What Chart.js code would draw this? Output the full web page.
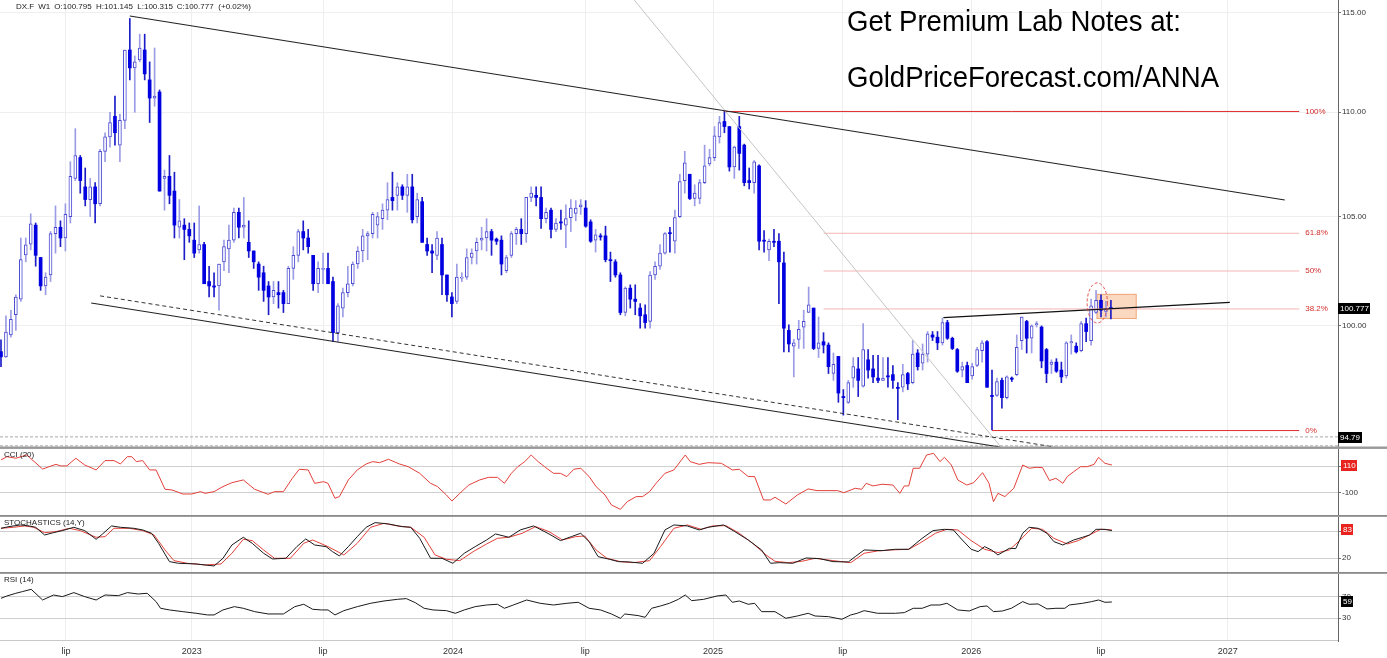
<!DOCTYPE html>
<html>
<head>
<meta charset="utf-8">
<script src="https://cdn.jsdelivr.net/npm/chart.js@4.4.0/dist/chart.umd.min.js"></script>
<style>
  html, body { margin: 0; padding: 0; background: #fff; }
  #wrap { position: relative; width: 1387px; height: 658px; overflow: hidden; background: #fff; }
  #wrap canvas { position: absolute; left: 0; }
</style>
</head>
<body>
<div id="wrap">
  <canvas id="priceChart" width="1387" height="448" style="top:0px"></canvas>
  <canvas id="cciChart" width="1387" height="68" style="top:448px"></canvas>
  <canvas id="stochChart" width="1387" height="57" style="top:516px"></canvas>
  <canvas id="rsiChart" width="1387" height="85" style="top:573px"></canvas>
</div>
<script>
// weekly candles, index = week number
const opens = [
  98.86,98.63,99.60,100.50,101.20,103.22,103.72,104.60,103.10,101.80,
  102.30,104.20,104.50,104.00,105.00,106.80,107.80,106.40,105.80,106.40,
  105.60,108.10,108.80,109.80,108.40,109.60,113.10,112.20,112.60,113.10,
  111.60,110.70,111.00,106.80,106.90,106.20,104.50,104.60,104.40,103.90,
  103.45,103.70,102.00,101.80,101.80,102.90,103.50,103.90,105.20,104.50,
  103.80,103.40,102.80,102.40,101.80,101.30,101.50,101.50,101.00,102.60,
  103.20,104.30,104.00,103.20,101.90,102.55,102.60,102.00,99.70,100.80,
  101.50,101.90,102.80,103.40,104.10,104.20,104.60,104.90,105.30,105.90,
  106.00,106.40,106.00,106.40,105.00,105.70,103.70,103.40,103.20,103.70,
  102.30,101.30,101.10,102.15,102.20,103.10,103.40,103.90,104.00,104.30,
  103.95,103.90,102.50,103.20,104.20,104.40,104.20,105.90,106.00,105.90,
  104.90,105.30,104.40,104.75,104.60,104.95,105.15,105.45,105.40,104.75,
  103.90,104.10,104.10,103.00,102.90,102.30,100.60,101.70,101.20,100.80,
  100.50,100.20,102.30,102.70,103.30,104.25,103.85,105.00,106.70,107.00,
  105.85,105.85,106.60,107.50,107.80,108.80,109.55,109.30,107.35,109.30,
  108.40,106.70,106.60,107.40,103.90,103.45,103.85,103.85,102.85,99.80,
  99.10,99.40,99.95,100.60,100.80,99.00,99.30,99.15,97.90,98.65,
  96.90,96.65,97.70,98.10,97.35,98.50,98.10,97.70,97.60,97.80,
  97.85,97.30,97.30,97.90,97.50,98.80,98.35,98.75,99.60,99.50,
  99.25,100.15,99.45,98.95,98.05,98.25,97.80,98.25,98.90,99.30,
  96.95,96.95,97.60,96.85,97.70,97.85,99.35,100.20,99.45,100.05,
  99.95,98.95,98.30,98.40,98.05,97.80,99.25,99.10,98.90,100.10,
  99.35,100.60,101.15,100.65,100.795
];
const highs = [
  99.38,100.45,100.70,101.40,104.00,104.00,105.13,104.70,103.10,102.40,
  104.30,105.50,104.80,105.60,107.60,109.20,107.90,107.30,106.80,106.60,
  108.20,109.00,110.00,110.80,109.90,113.10,114.70,112.80,113.90,113.90,
  112.50,113.20,111.10,107.20,107.90,107.10,105.80,104.90,104.70,104.70,
  105.50,103.80,102.70,102.40,102.80,103.90,104.60,105.40,105.40,105.90,
  104.80,103.40,102.90,102.70,102.00,102.00,102.00,101.60,102.70,103.60,
  104.40,104.80,104.40,103.20,102.90,103.30,103.30,102.20,101.00,101.70,
  102.70,102.90,103.60,104.40,104.30,105.20,105.20,105.60,106.60,107.10,
  106.60,106.50,107.00,107.00,106.10,105.90,104.00,103.70,104.30,104.00,
  102.30,101.50,102.80,102.40,103.50,103.50,104.00,104.50,104.90,104.40,
  104.00,104.10,103.20,104.30,104.50,104.90,105.90,106.40,106.40,106.40,
  105.40,105.40,104.90,105.30,105.55,105.80,105.75,105.80,105.75,104.85,
  104.40,104.20,104.55,103.35,103.00,102.40,101.76,101.85,101.85,101.00,
  100.95,102.45,102.90,103.70,104.25,104.50,105.30,107.00,108.10,107.00,
  106.50,106.75,108.40,108.20,109.30,109.80,110.05,109.30,108.35,109.80,
  108.45,107.30,107.65,107.45,104.35,103.95,104.40,104.20,103.35,100.05,
  99.40,100.25,100.70,101.75,100.80,100.40,99.70,99.25,98.80,98.65,
  97.20,97.60,98.60,98.60,100.10,98.95,98.70,98.70,98.60,98.60,
  98.25,97.50,98.30,97.95,99.35,98.95,99.20,99.75,99.75,99.75,
  100.35,100.25,99.50,99.00,98.40,98.40,98.35,99.05,99.35,99.35,
  98.05,97.70,97.70,97.80,97.75,99.60,100.40,100.25,100.05,100.20,
  100.00,99.00,98.50,98.55,98.40,99.30,99.60,99.25,100.20,100.35,
  101.20,101.60,101.40,101.10,101.145
];
const lows = [
  98.20,98.60,99.50,99.80,101.10,102.90,103.45,102.70,101.60,101.40,
  102.00,103.30,103.60,103.40,104.70,106.70,106.10,105.50,105.00,104.70,
  105.50,107.60,108.30,108.40,107.60,109.20,111.60,110.00,112.50,111.60,
  109.50,110.30,106.20,105.30,105.60,104.00,104.00,103.00,103.80,103.10,
  103.30,101.90,101.30,101.30,100.70,102.50,102.40,103.80,104.00,104.00,
  103.10,102.60,101.60,101.10,100.50,101.00,100.80,100.60,101.00,102.10,
  102.90,103.45,103.30,101.60,101.50,101.90,101.90,99.30,99.30,100.40,
  101.30,101.80,102.60,102.90,103.00,104.00,104.00,104.40,104.85,105.30,
  105.30,105.80,105.20,104.70,104.70,103.80,103.20,102.40,103.00,101.40,
  101.10,100.40,101.00,102.00,102.10,102.80,102.80,103.45,103.40,103.20,
  103.70,102.30,102.40,103.10,103.70,103.70,103.80,105.70,105.50,104.45,
  104.70,104.00,104.30,104.40,103.55,104.30,104.80,105.10,104.50,103.80,
  103.35,103.90,102.90,102.00,102.20,100.50,100.45,100.80,100.50,99.90,
  99.90,99.90,102.10,102.55,103.25,103.35,103.30,104.95,106.10,105.80,
  105.50,105.60,106.55,107.40,107.65,108.50,109.00,107.15,106.80,107.20,
  106.45,106.30,106.10,103.45,103.35,102.95,103.60,101.00,98.85,98.85,
  97.75,99.00,99.00,100.60,98.95,98.60,98.80,97.90,97.60,96.65,
  96.10,96.60,97.30,96.90,97.30,97.70,97.50,97.50,97.60,97.30,
  97.25,95.90,97.10,97.20,97.45,98.05,98.05,98.40,99.35,98.95,
  99.15,99.40,98.95,97.95,97.75,97.50,97.65,98.20,98.40,97.30,
  95.47,96.90,96.40,96.80,97.55,97.80,98.95,98.80,98.80,99.95,
  98.15,97.50,97.90,97.95,97.50,97.70,98.75,98.80,98.85,99.30,
  99.15,100.55,100.40,100.40,100.315
];
const closes = [
  98.63,99.73,100.30,101.30,103.00,103.68,104.66,103.20,101.80,102.20,
  104.20,104.50,104.00,105.10,106.90,107.90,106.70,105.80,106.40,105.60,
  108.10,108.80,109.50,109.00,109.60,113.10,112.20,112.50,113.20,111.90,
  110.70,110.80,106.20,106.90,106.00,104.60,104.80,104.40,104.10,103.30,
  103.70,101.90,101.80,101.75,102.80,103.60,103.90,105.20,104.50,104.60,
  103.40,102.90,102.20,101.60,101.30,101.60,101.40,101.00,102.60,103.20,
  104.30,104.00,103.60,101.90,102.60,102.60,101.90,99.70,100.90,101.50,
  101.90,102.80,103.40,104.10,104.20,105.10,105.00,105.30,105.80,105.75,
  106.40,106.00,106.40,104.85,105.80,103.80,103.40,103.30,104.00,102.30,
  101.40,101.00,102.20,102.20,103.10,103.30,103.80,104.00,104.30,103.90,
  103.85,102.80,103.10,104.20,104.40,104.20,105.90,106.10,105.90,104.90,
  105.20,104.40,104.70,104.70,104.90,105.40,105.40,105.55,104.55,103.85,
  104.15,104.05,103.00,102.95,102.30,100.60,101.70,101.20,101.10,100.45,
  100.15,102.30,102.70,103.30,104.20,104.20,104.95,106.65,107.55,105.85,
  106.10,106.60,107.40,107.80,108.85,109.50,109.30,107.35,108.30,108.00,
  106.60,106.60,107.60,103.85,103.85,103.85,103.80,102.90,99.90,99.20,
  99.25,99.85,100.20,100.95,99.00,99.25,99.15,98.20,98.30,97.05,
  96.85,97.50,98.20,97.60,98.95,98.05,97.75,97.60,97.70,97.75,
  97.60,97.25,97.85,97.45,98.75,98.20,98.75,99.65,99.50,99.25,
  100.15,99.45,99.00,98.00,98.20,97.50,98.20,98.95,99.25,97.30,
  96.90,97.55,96.85,97.75,97.65,99.05,100.40,99.45,100.00,100.10,
  98.45,97.90,98.40,98.00,97.75,99.25,99.30,98.85,100.10,99.75,
  100.90,101.15,100.70,100.75,100.777
];

// time axis (week numbers of the labels)
const tickWeeks = [13.1, 38.5, 65.0, 91.2, 117.9, 143.7, 169.9, 195.8, 222.0, 247.6];
const tickLabels = ['lip', '2023', 'lip', '2024', 'lip', '2025', 'lip', '2026', 'lip', '2027'];
const priceTicks = [100, 105, 110, 115];

// drawn studies, [week, price]
const trendUpper = [[26.0, 114.83], [259.1, 105.78]];
const trendLower = [[18.2, 101.03], [201.6, 94.74]];
const trendDashed = [[20.0, 101.35], [212.7, 94.74]];
const trendGray = [[127.8, 115.65], [201.8, 94.74]];
const neckline = [[190.2, 100.37], [248.0, 101.06]];
const fibLevels = [110.04, 104.22, 102.48, 100.76, 95.44];
const fibNames = ['100%', '61.8%', '50%', '38.2%', '0%'];
const fibStart = [146, 166, 166, 166, 200];
const fibEnd = 262;
const hLevels = [95.17, 94.79];
const zoneWeeks = [221.1, 229.2];
const zonePrices = [100.31, 101.44];
const ellipseWeeks = [219.2, 223.3];
const ellipsePrices = [100.13, 101.94];
const lastPrice = 100.777;

// indicators, [week, value]
const cciLine = [[0,149],[1.2,174],[3.0,162],[5.2,187],[8.4,79],[9.7,97],[11.1,115],[12.0,103],[13.3,103],[15.1,162],[16.9,110],[19.2,72],[21.0,144],[22.8,144],[24.1,118],[25.5,174],[26.4,174],[27.3,136],[28.6,144],[30.0,72],[31.3,72],[33.1,-77],[34.5,-82],[36.7,-113],[38.5,-113],[40.3,-95],[41.2,-108],[43.0,-95],[44.8,-56],[46.6,-26],[48.9,-5],[51.2,-77],[53.9,-115],[55.2,-95],[57.0,-95],[58.8,8],[60.2,77],[62.0,72],[63.3,-31],[65.1,-18],[66.0,-31],[67.4,-146],[68.3,-133],[70.1,-5],[71.9,72],[73.7,118],[75.0,136],[76.4,128],[78.2,154],[80.4,118],[82.2,97],[84.5,46],[86.7,-31],[88.1,-56],[89.9,-121],[91.0,-167],[92.6,-108],[94.4,-44],[96.6,-5],[98.4,15],[100.2,15],[101.6,-31],[103.0,46],[104.3,97],[105.7,136],[107.0,187],[108.4,136],[109.7,97],[111.5,46],[112.9,46],[114.2,21],[115.6,77],[117.0,85],[118.7,21],[120.1,-56],[121.9,-121],[123.2,-197],[125.0,-231],[126.4,-172],[128.2,-133],[129.5,-133],[130.9,-95],[132.2,-31],[134.0,46],[135.8,72],[138.1,187],[139.1,136],[140.9,115],[142.7,128],[145.4,123],[147.6,72],[149.0,77],[150.8,21],[152.1,21],[153.9,-159],[155.3,-159],[156.2,-138],[158.4,-190],[160.7,-121],[162.9,-74],[164.7,-87],[168.8,-87],[170.1,-103],[172.4,-69],[173.7,-77],[174.6,-31],[176.0,-51],[177.8,-38],[180.0,-44],[181.4,-108],[182.3,-51],[183.2,-51],[184.1,85],[185.4,85],[186.8,187],[188.2,200],[189.5,136],[190.4,169],[191.8,110],[193.1,-5],[194.9,-44],[196.3,-26],[198.1,51],[199.4,-31],[200.3,-172],[201.2,-108],[202.6,-133],[204.4,-69],[206.2,110],[207.5,85],[208.9,92],[210.2,90],[211.6,-10],[212.9,8],[214.3,-31],[215.2,21],[216.5,59],[217.9,97],[219.2,97],[220.6,115],[221.5,169],[222.8,123],[224.2,110]];
const stochK = [[0,86.7],[1.6,90.4],[3.9,94.1],[5.7,91.9],[7.0,88.9],[8.8,71.8],[10.6,77.0],[12.4,81.5],[14.7,88.9],[16.9,81.5],[19.2,62.2],[20.5,74.1],[22.3,91.9],[24.1,88.9],[26.8,86.7],[28.6,83.0],[30.4,75.6],[31.8,53.3],[34.0,12.6],[35.8,8.9],[39.4,7.4],[43.0,2.9],[44.8,20.0],[46.6,49.6],[48.9,66.7],[50.7,53.3],[53.0,31.1],[54.8,18.5],[57.5,20.0],[59.7,45.9],[61.5,63.0],[63.3,49.6],[65.6,45.9],[66.9,34.8],[68.3,25.2],[70.1,45.9],[71.9,68.1],[73.7,88.9],[75.5,99.3],[78.2,96.3],[80.9,90.4],[82.7,88.9],[84.5,64.4],[86.7,20.0],[89.0,20.0],[91.2,8.9],[93.5,31.1],[95.7,45.9],[98.0,60.7],[99.8,74.1],[102.5,66.7],[104.8,83.0],[107.5,91.9],[110.6,74.1],[112.9,59.3],[115.1,68.1],[117.0,75.6],[118.7,57.0],[120.5,23.7],[122.8,17.8],[124.6,12.6],[126.8,11.8],[129.5,8.9],[131.8,31.1],[134.0,83.0],[135.8,94.1],[138.5,91.9],[140.9,83.0],[142.7,88.9],[145.8,94.1],[148.1,79.3],[150.8,60.7],[153.5,38.5],[155.3,8.9],[157.1,10.3],[159.8,8.9],[162.5,20.7],[165.2,19.2],[167.9,12.6],[171.0,11.8],[172.4,23.7],[174.2,38.5],[177.8,37.0],[180.5,40.0],[183.2,40.0],[185.9,64.4],[188.1,81.5],[190.4,84.4],[192.2,83.0],[194.0,60.7],[195.8,40.0],[197.2,34.8],[198.5,45.9],[199.9,38.5],[201.2,27.4],[203.5,42.2],[204.8,41.5],[206.2,75.6],[207.5,88.9],[209.3,86.7],[211.1,75.6],[212.5,57.0],[214.3,49.6],[216.5,60.7],[218.3,66.7],[219.7,71.8],[221.0,84.4],[222.8,84.4],[224.2,81.5]];
const stochD = [[0,86.7],[2.5,88.9],[4.8,91.9],[6.6,88.9],[8.8,77.0],[11.1,79.3],[13.8,86.7],[16.0,81.5],[19.2,66.7],[21.0,68.1],[22.8,86.7],[25.9,86.7],[28.6,81.5],[30.9,71.8],[33.1,38.5],[34.9,14.8],[37.6,8.9],[41.2,5.2],[44.4,7.4],[46.6,31.1],[48.9,62.2],[50.7,59.3],[53.0,38.5],[55.2,20.0],[58.4,20.0],[61.1,53.3],[62.9,60.7],[66.0,45.9],[69.2,27.4],[71.9,53.3],[74.6,88.9],[77.3,97.8],[80.0,91.9],[82.7,88.9],[85.4,66.7],[87.6,27.4],[89.9,17.8],[92.6,14.8],[95.3,34.8],[98.0,51.8],[100.2,64.4],[102.5,66.7],[105.2,75.6],[107.9,90.4],[110.6,79.3],[113.3,60.7],[116.0,68.1],[117.8,69.6],[120.1,38.5],[122.3,20.0],[125.0,12.6],[127.7,10.3],[130.9,14.8],[133.1,45.9],[135.8,86.7],[138.5,94.1],[141.3,84.4],[143.6,91.9],[146.3,92.6],[149.0,75.6],[151.7,53.3],[154.4,27.4],[156.2,13.3],[158.9,10.3],[161.6,13.3],[164.3,20.0],[167.9,14.8],[171.5,10.3],[174.2,31.1],[176.9,36.3],[179.6,38.5],[183.2,40.0],[185.4,53.3],[188.6,75.6],[190.9,84.4],[193.1,83.0],[195.8,59.3],[198.5,40.0],[201.2,32.6],[203.5,38.5],[205.7,60.7],[208.0,86.7],[210.2,84.4],[212.5,64.4],[215.2,51.8],[217.4,59.3],[220.1,74.1],[221.9,84.4],[224.2,83.0]];
const rsiLine = [[0,66.4],[1.2,70.6],[3.0,75.5],[4.3,78.5],[6.1,82.7],[8.4,63.3],[10.6,72.4],[12.4,69.4],[14.7,76.7],[16.9,69.4],[19.2,63.3],[21.0,72.4],[23.7,71.2],[25.5,76.7],[27.7,74.2],[29.5,75.5],[31.3,60.3],[32.2,48.2],[34.0,45.2],[36.7,42.1],[39.4,39.1],[41.7,36.1],[43.0,36.1],[44.8,45.2],[47.1,51.2],[48.9,48.2],[51.2,42.1],[53.9,37.9],[57.0,37.9],[59.3,51.2],[61.1,55.5],[62.9,46.4],[64.7,45.2],[66.0,45.2],[67.4,36.1],[69.2,43.9],[71.9,51.2],[74.6,57.3],[77.3,61.5],[80.0,64.5],[81.8,65.8],[83.6,58.5],[85.4,48.2],[87.2,45.2],[89.9,43.9],[91.7,39.1],[93.5,45.2],[95.7,51.2],[98.0,54.2],[100.2,55.5],[101.6,48.2],[103.4,54.2],[106.1,63.3],[108.8,57.3],[111.5,54.2],[114.2,57.3],[116.5,59.1],[118.7,48.2],[121.0,45.2],[123.2,37.9],[125.0,30.0],[125.9,37.9],[128.6,34.9],[130.0,31.8],[131.3,48.2],[133.1,52.4],[134.9,57.3],[136.7,64.5],[138.1,72.4],[139.4,62.1],[141.8,64.5],[144.5,70.6],[146.3,72.4],[147.6,59.1],[149.0,61.5],[150.8,55.5],[152.1,57.3],[153.5,42.1],[156.2,42.1],[158.4,30.0],[160.7,34.2],[162.9,39.1],[164.3,34.2],[167.0,33.0],[169.7,28.2],[171.5,36.1],[172.8,39.1],[174.2,43.9],[176.9,39.1],[180.5,39.1],[182.3,40.3],[184.1,48.2],[185.9,48.2],[187.7,54.2],[189.5,54.2],[190.9,57.3],[193.1,45.2],[195.4,43.3],[197.6,51.2],[199.0,52.4],[200.3,42.1],[202.1,43.3],[203.9,48.2],[206.2,60.3],[207.5,55.5],[209.3,56.1],[211.1,47.0],[212.9,48.2],[214.7,48.2],[215.6,54.2],[218.3,57.3],[220.1,60.3],[221.5,63.3],[222.8,59.1],[224.2,59.7]];
const lastCci = 110, lastStoch = 83, lastRsi = 59;

const FONT = '"Liberation Sans", Arial, sans-serif';
Chart.defaults.font.family = FONT;

const xMin = -0.2, xMax = 269.83;
const AXIS_W = 49;

function xAxis(showLabels) {
  return {
    type: 'linear', min: xMin, max: xMax, offset: false,
    afterBuildTicks: s => { s.ticks = tickWeeks.map(v => ({ value: v })); },
    afterFit: s => { s.height = showLabels ? 17 : 0; s.paddingLeft = 0; s.paddingRight = 0; },
    grid: { color: '#eeeeee', drawTicks: false, offset: false },
    border: { display: false },
    ticks: {
      display: showLabels, autoSkip: false, maxRotation: 0, padding: 5,
      color: '#333', font: { size: 9 },
      callback: (v, i) => tickLabels[i]
    }
  };
}
function yAxis(type, min, max, ticks, fmt, gridColor) {
  return {
    type: type, position: 'right', min: min, max: max,
    afterBuildTicks: s => { s.ticks = ticks.map(v => ({ value: v })); },
    afterFit: s => { s.width = AXIS_W; s.paddingTop = 0; s.paddingBottom = 0; },
    grid: { color: gridColor, tickLength: 3, tickColor: '#777' },
    border: { display: true, color: '#666' },
    ticks: { padding: 1, color: '#333', font: { size: 8 }, callback: fmt }
  };
}
function baseOptions(scales) {
  return {
    responsive: false, animation: false, devicePixelRatio: 1, events: [],
    layout: { padding: 0, autoPadding: false },
    plugins: { legend: { display: false }, tooltip: { enabled: false } },
    scales: scales
  };
}
function pts(arr) { return arr.map(p => ({ x: p[0], y: p[1] })); }
function lineSet(data, color, width, dash) {
  return { type: 'line', data: data, borderColor: color, borderWidth: width, borderDash: dash || [],
           pointRadius: 0, tension: 0, fill: false, order: 0 };
}
function valueBox(ctx, x, yc, w, text, bg) {
  ctx.fillStyle = bg;
  ctx.fillRect(x, Math.round(yc - 5.5), w, 11);
  ctx.fillStyle = '#fff';
  ctx.font = '8px ' + FONT;
  ctx.textAlign = 'left';
  ctx.textBaseline = 'middle';
  ctx.fillText(text, x + 2, Math.round(yc - 5.5) + 6);
}

// ---------- price panel ----------
const idx = opens.map((_, i) => i);
const bull = idx.filter(i => closes[i] >= opens[i]);
const bear = idx.filter(i => closes[i] < opens[i]);

const priceSets = [
  lineSet(pts(trendUpper), '#222', 1.1),
  lineSet(pts(trendLower), '#222', 1.1),
  lineSet(pts(trendDashed), '#333', 1, [4, 3]),
  lineSet(pts(trendGray), '#c4c4c4', 1),
  lineSet(pts(neckline), '#111', 1.3),
  { type: 'bar', data: bear.map(i => ({ x: i, y: [opens[i], closes[i]] })), backgroundColor: '#0000e0',
    borderWidth: 0, barThickness: 3, grouped: false, minBarLength: 1, order: 1 },
  { type: 'bar', data: bull.map(i => ({ x: i, y: [opens[i], closes[i]] })), backgroundColor: '#ffffff',
    borderColor: '#4a4ad2', borderWidth: 1, borderSkipped: false, barThickness: 3, grouped: false, minBarLength: 1, order: 1 },
  { type: 'bar', data: bear.map(i => ({ x: i, y: [lows[i], highs[i]] })), backgroundColor: '#1c1cc8',
    borderWidth: 0, barThickness: 1, grouped: false, order: 2 },
  { type: 'bar', data: bull.map(i => ({ x: i, y: [lows[i], highs[i]] })), backgroundColor: '#9c9ce6',
    borderWidth: 0, barThickness: 1, grouped: false, order: 2 }
];
fibLevels.forEach((lv, k) => {
  const strong = k === 0 || k === fibLevels.length - 1;
  priceSets.push(lineSet([{ x: fibStart[k], y: lv }, { x: fibEnd, y: lv }], strong ? '#e02a2a' : '#f4b4b4', 1));
});
hLevels.forEach(lv => {
  priceSets.push(lineSet([{ x: xMin, y: lv }, { x: xMax, y: lv }], '#a8a8a8', 1, [3, 2]));
});

const pricePlugin = {
  id: 'priceDecor',
  beforeDatasetsDraw(chart) {
    const { ctx, scales: { x, y } } = chart;
    const x0 = x.getPixelForValue(zoneWeeks[0]), x1 = x.getPixelForValue(zoneWeeks[1]);
    const y0 = y.getPixelForValue(zonePrices[1]), y1 = y.getPixelForValue(zonePrices[0]);
    ctx.save();
    ctx.fillStyle = 'rgba(247,186,140,0.55)';
    ctx.fillRect(x0, y0, x1 - x0, y1 - y0);
    ctx.strokeStyle = 'rgba(238,150,100,0.75)';
    ctx.lineWidth = 1;
    ctx.strokeRect(x0 + 0.5, y0 + 0.5, x1 - x0 - 1, y1 - y0 - 1);
    ctx.restore();
  },
  afterDraw(chart) {
    const { ctx, scales: { x, y }, chartArea } = chart;
    ctx.save();
    // ellipse around the breakout
    const ex0 = x.getPixelForValue(ellipseWeeks[0]), ex1 = x.getPixelForValue(ellipseWeeks[1]);
    const ey0 = y.getPixelForValue(ellipsePrices[1]), ey1 = y.getPixelForValue(ellipsePrices[0]);
    ctx.strokeStyle = 'rgba(220,60,60,0.85)';
    ctx.lineWidth = 1;
    ctx.setLineDash([3, 2]);
    ctx.beginPath();
    ctx.ellipse((ex0 + ex1) / 2, (ey0 + ey1) / 2, (ex1 - ex0) / 2, (ey1 - ey0) / 2, 0, 0, Math.PI * 2);
    ctx.stroke();
    ctx.setLineDash([]);

    // fib labels
    ctx.font = '8px ' + FONT;
    ctx.textAlign = 'left';
    ctx.textBaseline = 'middle';
    ctx.fillStyle = '#d42a2a';
    const fx = x.getPixelForValue(fibEnd) + 6;
    fibLevels.forEach((lv, k) => ctx.fillText(fibNames[k], fx, y.getPixelForValue(lv)));

    // header
    ctx.fillStyle = '#222';
    const head = ['DX.F', 'W1', 'O:100.795', 'H:101.145', 'L:100.315', 'C:100.777', '(+0.02%)'];
    const hx = [16, 38.3, 54.3, 96, 137.3, 176.7, 218.3];
    head.forEach((t, k) => ctx.fillText(t, hx[k], 7));

    // promo text
    ctx.fillStyle = '#000';
    ctx.font = '29px ' + FONT;
    ctx.textBaseline = 'alphabetic';
    ctx.save();
    ctx.translate(847, 31);
    ctx.scale(0.95, 1);
    ctx.fillText('Get Premium Lab Notes at:', 0, 0);
    ctx.fillText('GoldPriceForecast.com/ANNA', 0, 56);
    ctx.restore();

    // price boxes on the axis
    valueBox(ctx, chartArea.right, y.getPixelForValue(lastPrice), 32, '100.777', '#000');
    const lowY = Math.min(y.getPixelForValue(hLevels[1]), chartArea.bottom - 10.5);
    valueBox(ctx, chartArea.right, lowY, 24, hLevels[1].toFixed(2), '#000');

    // panel separator
    ctx.fillStyle = '#999';
    ctx.fillRect(0, chart.height - 1.5, chart.width, 1.5);
    ctx.restore();
  }
};

new Chart(document.getElementById('priceChart'), {
  type: 'bar',
  data: { datasets: priceSets },
  options: baseOptions({
    x: xAxis(false),
    y: yAxis('logarithmic', 94.70, 115.65, priceTicks, v => Number(v).toFixed(2), '#efefef')
  }),
  plugins: [pricePlugin]
});

// ---------- indicator panels ----------
function indicatorPlugin(title, box, bottomLine) {
  return {
    id: 'ind' + title.replace(/\W/g, ''),
    afterDraw(chart) {
      const { ctx, scales: { y }, chartArea } = chart;
      ctx.save();
      ctx.font = '8px ' + FONT;
      ctx.fillStyle = '#222';
      ctx.textAlign = 'left';
      ctx.textBaseline = 'middle';
      ctx.fillText(title, 4, 7);
      valueBox(ctx, chartArea.right + 3, y.getPixelForValue(box.value), box.w, box.text, box.color);
      ctx.fillStyle = '#a0a0a0';
      ctx.fillRect(0, 0, chart.width, 1);
      if (bottomLine) {
        ctx.fillStyle = '#8a8a8a';
        ctx.fillRect(0, chartArea.bottom - 1, chart.width, 1);
      } else {
        ctx.fillStyle = '#c8c8c8';
        ctx.fillRect(0, chartArea.bottom - 1, chartArea.right, 1);
      }
      ctx.restore();
    }
  };
}

new Chart(document.getElementById('cciChart'), {
  type: 'line',
  data: { datasets: [lineSet(pts(cciLine), '#e3403a', 1)] },
  options: baseOptions({
    x: xAxis(false),
    y: yAxis('linear', -282.3, 240.8, [-100, 100], v => String(v), '#cfcfcf')
  }),
  plugins: [indicatorPlugin('CCI (20)', { value: lastCci, text: String(lastCci), color: '#e8221c', w: 16 }, true)]
});

new Chart(document.getElementById('stochChart'), {
  type: 'line',
  data: { datasets: [lineSet(pts(stochK), '#1a1a1a', 1), lineSet(pts(stochD), '#e3403a', 1)] },
  options: baseOptions({
    x: xAxis(false),
    y: yAxis('linear', -12.7, 114, [20, 80], v => String(v), '#cfcfcf')
  }),
  plugins: [indicatorPlugin('STOCHASTICS (14,Y)', { value: lastStoch, text: String(lastStoch), color: '#e8221c', w: 12 }, true)]
});

new Chart(document.getElementById('rsiChart'), {
  type: 'line',
  data: { datasets: [lineSet(pts(rsiLine), '#1a1a1a', 1)] },
  options: baseOptions({
    x: xAxis(true),
    y: yAxis('linear', -11.3, 112.4, [30, 70], v => String(v), '#cfcfcf')
  }),
  plugins: [indicatorPlugin('RSI (14)', { value: lastRsi + 0.7, text: String(lastRsi), color: '#000', w: 12 }, false)]
});
</script>
</body>
</html>
